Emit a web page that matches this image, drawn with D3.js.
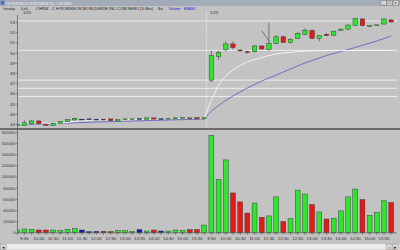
<!DOCTYPE html>
<html>
<head>
<meta charset="utf-8">
<script src="https://cdn.jsdelivr.net/npm/d3@7"></script>
<style>
  body { margin: 0; background: #c2c2c2; }
  svg { display: block; font-family: "Liberation Sans", Arial, sans-serif; }
</style>
</head>
<body>
<div id="chart"></div>
<script>
// CHRW 15-min bars, last bar of 1/19 then 1/20 and 1/23
var days = ["1/20", "1/23"];
var times = ["9:30", "9:45", "10:00", "10:15", "10:30", "10:45", "11:00", "11:15", "11:30", "11:45",
             "12:00", "12:15", "12:30", "12:45", "13:00", "13:15", "13:30", "13:45", "14:00", "14:15",
             "14:30", "14:45", "15:00", "15:15", "15:30", "15:45"];

var opens  = [42.85,
  42.85, 43.02, 43.30, 42.98, 42.87, 43.07, 43.26, 43.40, 43.47, 43.50, 43.47, 43.48, 43.50,
  43.30, 43.47, 43.48, 43.52, 43.46, 43.60, 43.52, 43.53, 43.50, 43.60, 43.60, 43.62, 43.50,
  47.30, 49.60, 50.30, 50.85, 50.25, 50.10, 50.10, 50.65, 50.30, 50.90, 51.55, 50.97, 51.40,
  51.80, 52.15, 51.40, 51.80, 51.70, 52.20, 52.30, 52.65, 53.30, 52.63, 52.68, 52.80, 53.20];
var highs  = [43.10,
  43.35, 43.38, 43.35, 43.02, 43.12, 43.30, 43.45, 43.60, 43.50, 43.52, 43.50, 43.50, 43.52,
  43.47, 43.52, 43.52, 43.55, 43.63, 43.62, 43.55, 43.57, 43.63, 43.64, 43.62, 43.64, 43.66,
  50.20, 50.20, 51.10, 51.10, 50.35, 50.20, 50.75, 50.70, 51.00, 51.70, 51.65, 51.40, 52.00,
  52.35, 52.30, 51.70, 51.95, 52.15, 52.35, 52.75, 53.40, 53.35, 52.66, 52.75, 53.35, 53.30];
var lows   = [42.80,
  42.80, 42.98, 42.97, 42.82, 42.82, 43.04, 43.22, 43.35, 43.43, 43.46, 43.44, 43.42, 43.28,
  43.28, 43.45, 43.46, 43.48, 43.44, 43.45, 43.48, 43.50, 43.48, 43.57, 43.55, 43.48, 43.47,
  47.10, 49.30, 50.10, 50.30, 50.10, 49.90, 50.00, 50.30, 50.20, 50.85, 50.95, 50.90, 51.35,
  51.70, 51.30, 51.10, 51.60, 51.65, 52.15, 52.25, 52.60, 52.60, 52.50, 52.65, 52.75, 52.95];
var closes = [43.00,
  43.12, 43.30, 43.03, 42.87, 43.07, 43.26, 43.42, 43.56, 43.47, 43.50, 43.47, 43.45, 43.32,
  43.45, 43.50, 43.50, 43.52, 43.60, 43.48, 43.52, 43.56, 43.60, 43.62, 43.58, 43.50, 43.62,
  49.70, 50.00, 50.85, 50.50, 50.18, 50.03, 50.65, 50.35, 50.90, 51.55, 51.00, 51.30, 51.90,
  52.20, 51.40, 51.67, 51.68, 52.10, 52.30, 52.70, 53.35, 52.65, 52.66, 52.72, 53.30, 53.00];
var volumes = [480000,
  660000, 600000, 480000, 480000, 480000, 360000, 600000, 720000, 480000, 180000, 240000, 240000, 200000,
  360000, 360000, 250000, 550000, 300000, 480000, 300000, 300000, 480000, 420000, 550000, 550000, 1370000,
  17400000, 9500000, 13000000, 7100000, 5500000, 3500000, 5300000, 2750000, 3000000, 6400000, 2000000,
  2500000, 7600000, 6900000, 5000000, 3700000, 2450000, 2600000, 3900000, 6400000, 7800000, 5900000,
  3100000, 3600000, 5700000, 5400000];
var ema34 = [42.92,
  42.95, 42.98, 43.00, 43.02, 43.03, 43.05, 43.08, 43.11, 43.14, 43.17, 43.19, 43.21, 43.23,
  43.25, 43.27, 43.29, 43.31, 43.33, 43.35, 43.37, 43.39, 43.41, 43.43, 43.45, 43.47, 43.50,
  44.27, 44.81, 45.30, 45.75, 46.14, 46.53, 46.87, 47.22, 47.51, 47.80, 48.10, 48.39, 48.69,
  48.98, 49.23, 49.47, 49.72, 49.91, 50.11, 50.30, 50.50, 50.72, 50.92, 51.14, 51.38, 51.63];
var whiteLine = [43.00,
  43.00, 43.05, 43.10, 43.08, 43.05, 43.08, 43.15, 43.25, 43.32, 43.37, 43.40, 43.42, 43.40,
  43.39, 43.41, 43.43, 43.45, 43.48, 43.49, 43.50, 43.52, 43.54, 43.55, 43.55, 43.55, 43.56,
  45.35, 46.82, 47.71, 48.29, 48.74, 49.08, 49.32, 49.52, 49.72, 49.86, 49.96, 50.03, 50.09,
  50.14, 50.17, 50.19, 50.20, 50.20, 50.21, 50.21, 50.21, 50.22, 50.22, 50.22, 50.22, 50.22];

var levels = [53.1, 50.22, 47.3, 46.5, 45.7];
var priceTicks = [43, 44, 45, 46, 47, 48, 49, 50, 51, 52, 53];
var volTicks = [0, 2000000, 4000000, 6000000, 8000000, 10000000, 12000000, 14000000, 16000000, 18000000];
// hand drawn arrow on the chart: [bar, price] pairs
var arrowLines = [[["1/23 11:30", 52.9], ["1/23 11:30", 50.95]],
                  [["1/23 11:15", 52.15], ["1/23 11:30", 51.15]]];

var bars = ["1/19 15:45"]
  .concat(times.map(function(t) { return days[0] + " " + t; }))
  .concat(times.map(function(t) { return days[1] + " " + t; }));

var data = bars.map(function(b, i) {
  return {id: b, time: b.split(" ")[1], o: opens[i], h: highs[i], l: lows[i], c: closes[i],
          v: volumes[i], ema: ema34[i], wl: whiteLine[i]};
});

var width = 400, height = 250;
var left = 17.5, right = 397;
var bg = "#c3c3c3";

var svg = d3.select("#chart").append("svg")
    .attr("width", width)
    .attr("height", height);

svg.append("rect").attr("width", width).attr("height", height).attr("fill", bg);

var x = d3.scaleBand()
    .domain(bars)
    .range([13.6, 394.8])
    .paddingInner(0.32)
    .paddingOuter(0.16);

var yP = d3.scaleLinear().domain([43, 53]).range([124, 22]);
var yV = d3.scaleLinear().domain([0, 18000000]).range([232.7, 131.9]);

function color(d) {
  if (d.c > d.o) return "#2fe62f";
  if (d.c < d.o) return "#e41a1a";
  return "#1414c4";
}
function cx(id) { return x(id) + x.bandwidth() / 2; }

var defs = svg.append("defs");
defs.append("clipPath").attr("id", "clipP")
  .append("rect").attr("x", left).attr("y", 15).attr("width", right - left).attr("height", 113);
defs.append("clipPath").attr("id", "clipV")
  .append("rect").attr("x", left).attr("y", 130.5).attr("width", right - left).attr("height", 102.5);

// ---- title bar and header ----
svg.append("rect").attr("width", width).attr("height", 6).attr("fill", "#a3abb9");
svg.append("rect").attr("x", 0.8).attr("y", 0.8).attr("width", 3.5).attr("height", 4).attr("fill", "#3a6fd0");
svg.append("text").attr("x", 5.5).attr("y", 4.6).attr("font-size", 4)
  .attr("fill", "#eef0f4").attr("textLength", 66).attr("lengthAdjust", "spacingAndGlyphs")
  .text("CH ROBINSON WORLDWIDE INC COM NEW");
[381, 387, 393].forEach(function(bx, i) {
  svg.append("rect").attr("x", bx).attr("y", 0.6).attr("width", 5.2).attr("height", 4.6)
    .attr("fill", "#d8d6d0").attr("stroke", "#707070").attr("stroke-width", 0.4);
  svg.append("text").attr("x", bx + 2.6).attr("y", 4.3).attr("font-size", 4)
    .attr("text-anchor", "middle").attr("fill", "#202020").text(["_", "\u25a1", "x"][i]);
});

var header = [
  {t: "Intraday", x: 3, w: 12, s: 4.4, c: "#202020"},
  {t: "(Left)", x: 21, w: 7, s: 4.4, c: "#202020"},
  {t: "CHRW - C H ROBINSON WORLDWIDE INC COM NEW (15-Min)", x: 36, w: 117, s: 3.8, c: "#202020"},
  {t: "Bar", x: 158, w: 5, s: 4.4, c: "#202020"},
  {t: "Volume", x: 168.5, w: 12, s: 4.4, c: "#1a1ad0"},
  {t: "EMA34", x: 184, w: 11, s: 4.4, c: "#1a1ad0"}
];
svg.selectAll(".hdr").data(header).enter().append("text")
    .attr("class", "hdr")
    .attr("x", function(d) { return d.x; })
    .attr("y", 9.6)
    .attr("font-size", function(d) { return d.s; })
    .attr("fill", function(d) { return d.c; })
    .attr("textLength", function(d) { return d.w; })
    .attr("lengthAdjust", "spacingAndGlyphs")
    .text(function(d) { return d.t; });

svg.selectAll(".day").data(days).enter().append("text")
    .attr("class", "day")
    .attr("x", function(d) { return x(d + " 9:30") + 1; })
    .attr("y", 13.6)
    .attr("font-size", 4.2)
    .attr("fill", "#303030")
    .text(function(d) { return d; });

// ---- price panel ----
var pricePanel = svg.append("g").attr("clip-path", "url(#clipP)");

pricePanel.selectAll(".level").data(levels).enter().append("line")
    .attr("class", "level")
    .attr("x1", left).attr("x2", right)
    .attr("y1", function(d) { return yP(d); })
    .attr("y2", function(d) { return yP(d); })
    .attr("stroke", "#f2f2f2")
    .attr("stroke-width", 0.9);

// day separator
svg.append("line")
    .attr("x1", x(days[1] + " 9:30") - 2.6).attr("x2", x(days[1] + " 9:30") - 2.6)
    .attr("y1", 11).attr("y2", 128)
    .attr("stroke", "#f4f4f4").attr("stroke-width", 0.8)
    .attr("stroke-dasharray", "1.2,1");

var line = d3.line().x(function(d) { return cx(d.id); });

pricePanel.append("path")
    .datum(data)
    .attr("fill", "none")
    .attr("stroke", "#6464c2")
    .attr("stroke-width", 0.9)
    .attr("d", line.y(function(d) { return yP(d.ema); }));

pricePanel.append("path")
    .datum(data)
    .attr("fill", "none")
    .attr("stroke", "#f6f6f6")
    .attr("stroke-width", 0.9)
    .attr("d", line.y(function(d) { return yP(d.wl); }));

var candle = pricePanel.selectAll(".candle").data(data).enter().append("g")
    .attr("class", "candle");

candle.append("line")
    .attr("x1", function(d) { return cx(d.id); })
    .attr("x2", function(d) { return cx(d.id); })
    .attr("y1", function(d) { return yP(d.h); })
    .attr("y2", function(d) { return yP(d.l); })
    .attr("stroke", "#3a3a3a")
    .attr("stroke-width", 0.6);

candle.append("rect")
    .attr("x", function(d) { return x(d.id) + 0.2; })
    .attr("width", x.bandwidth() - 0.4)
    .attr("y", function(d) { return yP(Math.max(d.o, d.c)); })
    .attr("height", function(d) { return Math.max(0.8, Math.abs(yP(d.o) - yP(d.c))); })
    .attr("fill", color)
    .attr("stroke", "#2c3a2c")
    .attr("stroke-width", 0.45);

svg.selectAll(".arrow").data(arrowLines).enter().append("line")
    .attr("class", "arrow")
    .attr("x1", function(d) { return cx(d[0][0]); })
    .attr("y1", function(d) { return yP(d[0][1]); })
    .attr("x2", function(d) { return cx(d[1][0]); })
    .attr("y2", function(d) { return yP(d[1][1]); })
    .attr("stroke", "#3c3c3c")
    .attr("stroke-width", 0.6);

var yAxisP = d3.axisLeft(yP).tickValues(priceTicks).tickSize(2).tickFormat(d3.format("d"));
svg.append("g")
    .attr("transform", "translate(" + left + ",0)")
    .call(yAxisP)
    .call(function(g) {
      g.select(".domain").remove();
      g.selectAll("line").attr("stroke", "#404040").attr("stroke-width", 0.5);
      g.selectAll("text").attr("font-size", 4.4).attr("fill", "#303030").attr("x", -2.6);
    });

// ---- separator ----
svg.append("rect").attr("x", 0).attr("y", 128).attr("width", width).attr("height", 2)
    .attr("fill", "#6c6c6c");

// ---- volume panel ----
var volPanel = svg.append("g").attr("clip-path", "url(#clipV)");

volPanel.selectAll(".vol").data(data).enter().append("rect")
    .attr("class", "vol")
    .attr("x", function(d) { return x(d.id); })
    .attr("width", x.bandwidth())
    .attr("y", function(d) { return yV(d.v); })
    .attr("height", function(d) { return yV(0) - yV(d.v); })
    .attr("fill", color)
    .attr("stroke", "#2c3a2c")
    .attr("stroke-width", 0.45);

var yAxisV = d3.axisLeft(yV).tickValues(volTicks).tickSize(2).tickFormat(d3.format("d"));
svg.append("g")
    .attr("transform", "translate(" + left + ",0)")
    .call(yAxisV)
    .call(function(g) {
      g.select(".domain").remove();
      g.selectAll("line").attr("stroke", "#404040").attr("stroke-width", 0.5);
      g.selectAll("text").attr("font-size", 3.7).attr("fill", "#303030").attr("x", -2.2)
        .each(function(d) {
          var n = String(d).length;
          if (n > 1) d3.select(this).attr("textLength", n * 1.72).attr("lengthAdjust", "spacingAndGlyphs");
        });
    });

var xAxis = d3.axisBottom(x).tickSize(2).tickSizeOuter(0)
    .tickFormat(function(id) {
      var t = id.split(" ")[1];
      return (/:(00|30)$/.test(t) && id.indexOf("1/19") < 0) ? t : "";
    });
svg.append("g")
    .attr("transform", "translate(0,232.9)")
    .call(xAxis)
    .call(function(g) {
      g.select(".domain").attr("stroke", "#505050").attr("stroke-width", 0.6)
        .attr("d", "M" + left + ",0H" + right);
      g.selectAll("line").attr("stroke", "#404040").attr("stroke-width", 0.5);
      g.selectAll("text").attr("font-size", 4.4).attr("fill", "#303030").attr("y", 3.6);
    });

// left axis line across both panels
svg.append("line")
    .attr("x1", left).attr("x2", left).attr("y1", 15).attr("y2", 233)
    .attr("stroke", "#555").attr("stroke-width", 0.7);

// ---- scroll bar ----
svg.append("rect").attr("x", 0).attr("y", 243.5).attr("width", width).attr("height", 6.5)
    .attr("fill", "#ececec").attr("stroke", "#a8a8a8").attr("stroke-width", 0.4);
[[0.5, "\u25c2"], [386, "\u25ab"], [392.5, "\u25b8"]].forEach(function(b) {
  svg.append("rect").attr("x", b[0]).attr("y", 244).attr("width", 6).attr("height", 5.5)
    .attr("fill", "#dcdad4").attr("stroke", "#808080").attr("stroke-width", 0.4);
  svg.append("text").attr("x", b[0] + 3).attr("y", 248.6).attr("font-size", 4.5)
    .attr("text-anchor", "middle").attr("fill", "#202020").text(b[1]);
});
</script>
</body>
</html>
